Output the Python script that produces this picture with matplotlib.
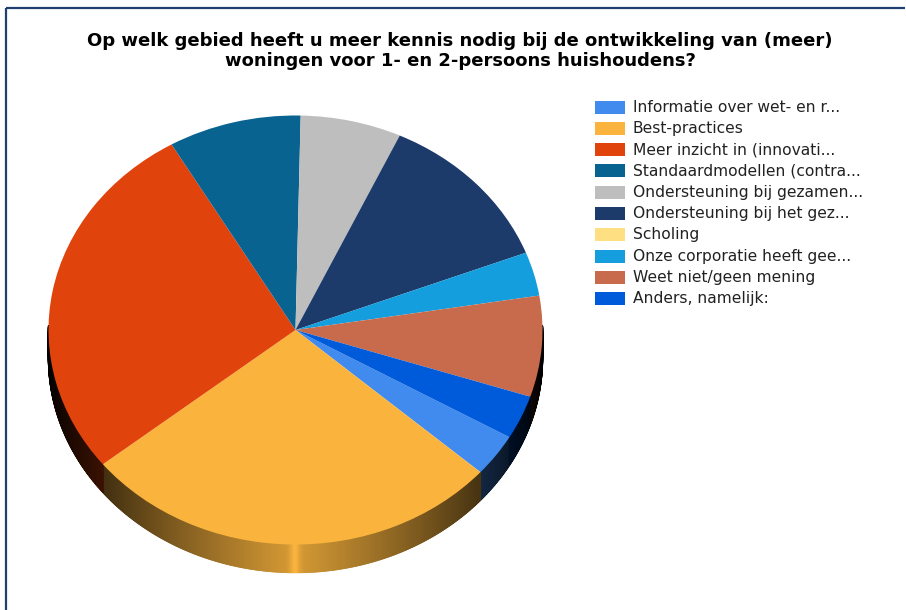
import numpy as np
import matplotlib
matplotlib.use("Agg")
import matplotlib.pyplot as plt
from matplotlib.transforms import Affine2D
from matplotlib.collections import PolyCollection
from matplotlib.patches import Rectangle
import matplotlib.colors as mcolors

# survey answers (percentage of respondents)
labels = [
    "Informatie over wet- en r...",
    "Best-practices",
    "Meer inzicht in (innovati...",
    "Standaardmodellen (contra...",
    "Ondersteuning bij gezamen...",
    "Ondersteuning bij het gez...",
    "Scholing",
    "Onze corporatie heeft gee...",
    "Weet niet/geen mening",
    "Anders, namelijk:",
]
values = [3.2, 27.7, 27.4, 8.7, 6.6, 12.2, 0.0, 3.3, 7.6, 3.3]
colors = ["#418bef", "#fab43e", "#e0430c", "#096390", "#bebebe",
          "#1c3a6a", "#fee082", "#149edd", "#c86b4c", "#005bdb"]

title = ("Op welk gebied heeft u meer kennis nodig bij de ontwikkeling van (meer)\n"
         "woningen voor 1- en 2-persoons huishoudens?")

W, H = 906, 610
fig = plt.figure(figsize=(W / 100, H / 100), dpi=100)
ax = fig.add_axes([0, 0, 1, 1])

# pie geometry in pixels (y measured upwards)
cx, cy = 295.5, H - 330
rx, ry = 247, 214.5
depth = 28

nz = [(v, c) for v, c in zip(values, colors) if v > 0]
wedges, _ = ax.pie([v for v, _ in nz], colors=[c for _, c in nz],
                   startangle=-30, counterclock=False,
                   center=(cx, cy), radius=rx,
                   wedgeprops=dict(linewidth=0, antialiased=True))

# tilt: squash the round pie into an ellipse
squash = Affine2D().translate(-cx, -cy).scale(1, ry / rx).translate(cx, cy)
for w in wedges:
    w.set_transform(squash + ax.transData)
    w.set_zorder(3)

# side wall: thin vertical strips, shaded towards the left/right edges
polys, fcs = [], []
for w, (v, c) in zip(wedges, nz):
    t1, t2 = sorted((w.theta1, w.theta2))
    ts = np.arange(t1, t2 + 0.25, 0.25)
    ts = np.clip(ts, t1, t2)
    base = np.array(mcolors.to_rgb(c))
    for a, b in zip(ts[:-1], ts[1:]):
        if np.sin(np.radians((a + b) / 2)) > 0.02:
            continue
        ra, rb = np.radians(a), np.radians(b)
        xa, ya = cx + rx * np.cos(ra), cy + ry * np.sin(ra)
        xb, yb = cx + rx * np.cos(rb), cy + ry * np.sin(rb)
        polys.append([(xa, ya), (xb, yb), (xb, yb - depth), (xa, ya - depth)])
        dx = ((xa + xb) / 2 - cx) / rx
        shade = 0.86 * (1 - min(abs(dx), 1)) ** 0.8 + 0.14 * np.exp(-(dx * rx / 5) ** 2)
        fcs.append(base * min(shade, 1))
ax.add_collection(PolyCollection(polys, facecolors=fcs, edgecolors=fcs,
                                 linewidths=1.0, zorder=2))

ax.set_xlim(0, W)
ax.set_ylim(0, H)
ax.set_aspect("auto")
ax.axis("off")

# frame lines on top and left
ax.plot([6, 905], [H - 8, H - 8], color="#1f3f6f", lw=1.6, solid_capstyle="butt")
ax.plot([6, 6], [H - 8, 0], color="#1f3f6f", lw=1.6, solid_capstyle="butt")

ax.text(460, H - 51, title, ha="center", va="center", fontsize=13,
        fontweight="bold", color="black", linespacing=1.2,
        family="DejaVu Sans")

# legend
for i, (lab, c) in enumerate(zip(labels, colors)):
    yc = H - (107 + i * 21.3)
    ax.add_patch(Rectangle((595, yc - 6.5), 30, 13, facecolor=c, edgecolor="none"))
    ax.text(633, yc, lab, ha="left", va="center", fontsize=11.2,
            color="#222222", family="DejaVu Sans")

fig.savefig("out.png", dpi=100)
